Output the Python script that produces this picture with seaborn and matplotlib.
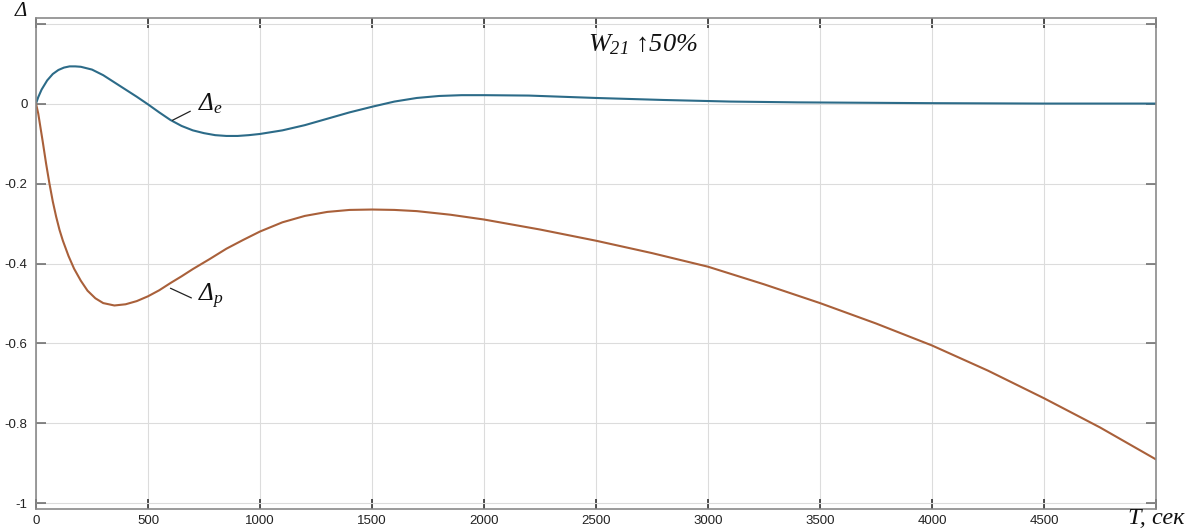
import matplotlib
matplotlib.use("Agg")
import matplotlib.pyplot as plt
import seaborn as sns
import pandas as pd

# Time axis (s) and deviation responses
t_e = [0, 10, 25, 50, 75, 100, 125, 150, 175, 200, 250, 300, 350, 400, 450,
       500, 550, 600, 650, 700, 750, 800, 850, 900, 950, 1000, 1100, 1200,
       1300, 1400, 1500, 1600, 1700, 1800, 1900, 2000, 2200, 2500, 2800,
       3100, 3400, 3700, 4000, 4500, 5000]
delta_e = [0.0, 0.016, 0.035, 0.058, 0.074, 0.084, 0.090, 0.093, 0.093, 0.092,
           0.085, 0.071, 0.053, 0.035, 0.017, -0.002, -0.022, -0.041, -0.056,
           -0.067, -0.074, -0.079, -0.081, -0.081, -0.079, -0.076, -0.067,
           -0.054, -0.038, -0.022, -0.008, 0.005, 0.014, 0.019, 0.021, 0.021,
           0.020, 0.014, 0.009, 0.005, 0.003, 0.002, 0.001, 0.0, 0.0]

t_p = [0, 10, 20, 30, 45, 60, 75, 90, 105, 120, 145, 170, 200, 230, 265, 300,
       350, 400, 450, 500, 550, 600, 650, 700, 775, 850, 925, 1000, 1100,
       1200, 1300, 1400, 1500, 1600, 1700, 1850, 2000, 2250, 2500, 2750,
       3000, 3250, 3500, 3750, 4000, 4250, 4500, 4750, 5000]
delta_p = [0.0, -0.025, -0.06, -0.095, -0.15, -0.2, -0.245, -0.283, -0.316,
           -0.343, -0.381, -0.413, -0.443, -0.468, -0.487, -0.499, -0.505,
           -0.502, -0.494, -0.482, -0.467, -0.449, -0.432, -0.414, -0.389,
           -0.363, -0.341, -0.32, -0.297, -0.281, -0.271, -0.266, -0.265,
           -0.266, -0.269, -0.278, -0.29, -0.315, -0.343, -0.374, -0.408,
           -0.452, -0.499, -0.550, -0.605, -0.668, -0.737, -0.81, -0.89]

x_ticks = [0, 500, 1000, 1500, 2000, 2500, 3000, 3500, 4000, 4500, 5000]
x_tick_labels = ["0", "500", "1000", "1500", "2000", "2500", "3000", "3500",
                 "4000", "4500", ""]
y_ticks = [-1.0, -0.8, -0.6, -0.4, -0.2, 0.0, 0.2]
y_tick_labels = ["-1", "-0.8", "-0.6", "-0.4", "-0.2", "0", ""]

sns.set_theme(style="whitegrid")
plt.rcParams["font.family"] = ["Liberation Sans", "DejaVu Sans"]
plt.rcParams["mathtext.fontset"] = "custom"
plt.rcParams["mathtext.rm"] = "Liberation Serif:italic"
plt.rcParams["mathtext.it"] = "Liberation Serif:italic"

blue = "#2c6b88"
orange = "#a9603a"

fig = plt.figure(figsize=(11.95, 5.31), dpi=100)
fig.patch.set_facecolor("white")
ax = fig.add_axes([36 / 1195, 22 / 531, 1120 / 1195, 491 / 531])
ax.set_facecolor("white")

df_e = pd.DataFrame({"t": t_e, "v": delta_e})
df_p = pd.DataFrame({"t": t_p, "v": delta_p})
sns.lineplot(data=df_e, x="t", y="v", ax=ax, color=blue, linewidth=1.5,
             estimator=None, sort=False)
sns.lineplot(data=df_p, x="t", y="v", ax=ax, color=orange, linewidth=1.5,
             estimator=None, sort=False)

ax.set_xlim(0, 5000)
ax.set_ylim(-1.014, 0.214)
ax.set_xticks(x_ticks)
ax.set_xticklabels(x_tick_labels)
ax.set_yticks(y_ticks)
ax.set_yticklabels(y_tick_labels)
ax.set_xlabel("")
ax.set_ylabel("")

ax.grid(True, color="#dcdcdc", linewidth=0.8)
for s in ax.spines.values():
    s.set_visible(True)
    s.set_color("#8a8a8a")
    s.set_linewidth(1.2)

ax.tick_params(axis="x", direction="in", length=7, width=1.1, color="#222222",
               top=True, bottom=True, labelsize=9.5, labelcolor="#222222", pad=4)
ax.tick_params(axis="y", direction="in", length=7, width=1.1, color="#666666",
               left=True, right=True, labelsize=9.5, labelcolor="#222222", pad=6)

# Curve labels with leader lines
ax.annotate("", xy=(598, -0.045), xytext=(700, -0.016),
            arrowprops=dict(arrowstyle="-", color="#222222", lw=0.9))
ax.text(722, 0.0, r"$Δ_{e}$", fontsize=18, color="#111111",
        va="center", ha="left")
ax.annotate("", xy=(589, -0.459), xytext=(705, -0.489),
            arrowprops=dict(arrowstyle="-", color="#222222", lw=0.9))
ax.text(722, -0.482, r"$Δ_{p}$", fontsize=18, color="#111111",
        va="center", ha="left")

ax.text(2463, 0.146, r"$W_{21}$ ↑50%", fontsize=19, color="#111111",
        va="center", ha="left", family="Liberation Serif", style="italic")

fig.text(21 / 1195, 1 - 11 / 531, "Δ", fontsize=15, color="#111111",
         ha="center", va="center", family="Liberation Serif", style="italic")
fig.text(1128 / 1195, 1 - 519 / 531, "T, сек", fontsize=17.5, color="#111111",
         ha="left", va="center", family="Liberation Serif", style="italic")

fig.savefig("out.png", dpi=100, facecolor="white")
